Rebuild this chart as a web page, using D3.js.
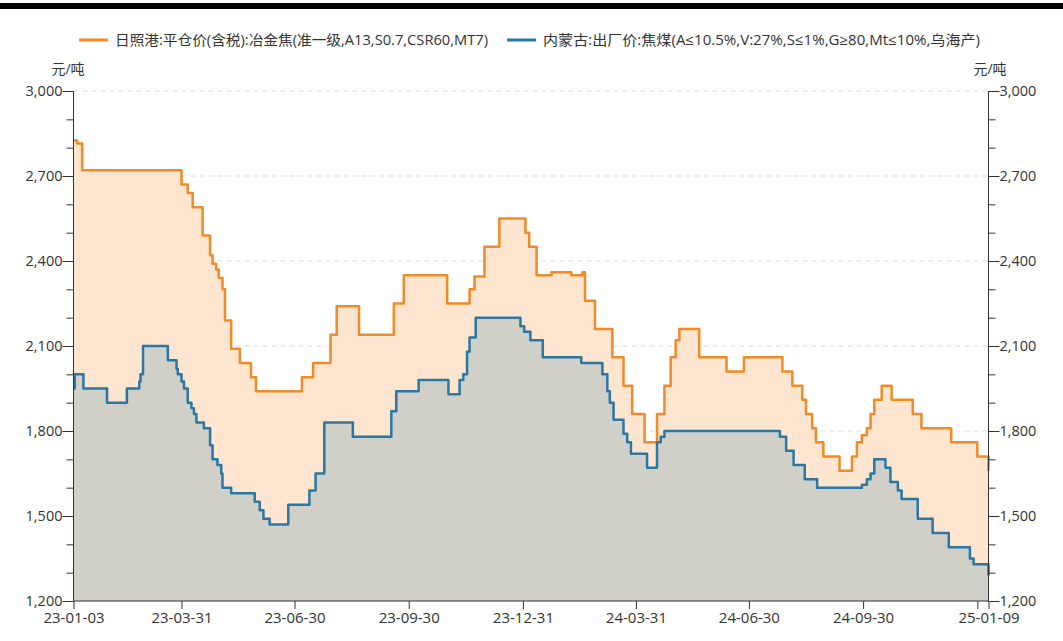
<!DOCTYPE html>
<html>
<head>
<meta charset="utf-8">
<script src="https://cdn.jsdelivr.net/npm/d3@7"></script>
<style>
  body { margin: 0; background: #fff; }
  svg text { font-family: "Open Sans", "Noto Sans CJK SC", sans-serif; fill: #333; }
</style>
</head>
<body>
<div id="chart"></div>
<script>
// 日照港 冶金焦 price, change points (value holds until next date)
const cokeDates = ["2023-01-03","2023-01-06","2023-01-10","2023-03-31","2023-04-05","2023-04-09","2023-04-17","2023-04-23","2023-04-25","2023-04-28","2023-04-30","2023-05-03","2023-05-05","2023-05-10","2023-05-17","2023-05-26","2023-05-30","2023-07-06","2023-07-15","2023-07-29","2023-08-03","2023-08-21","2023-09-18","2023-09-26","2023-10-31","2023-11-18","2023-11-22","2023-11-30","2023-12-12","2024-01-02","2024-01-05","2024-01-11","2024-01-23","2024-02-08","2024-02-17","2024-02-19","2024-02-27","2024-03-12","2024-03-21","2024-03-28","2024-04-07","2024-04-17","2024-04-23","2024-04-28","2024-05-02","2024-05-05","2024-05-21","2024-06-12","2024-06-26","2024-07-27","2024-08-04","2024-08-12","2024-08-15","2024-08-20","2024-08-23","2024-08-29","2024-09-11","2024-09-21","2024-09-25","2024-09-29","2024-10-03","2024-10-06","2024-10-09","2024-10-15","2024-10-23","2024-11-09","2024-11-16","2024-12-10","2024-12-31","2025-01-09"];
const cokeValues = [2825,2815,2720,2670,2640,2590,2490,2420,2390,2370,2340,2300,2190,2090,2040,1990,1940,1990,2040,2140,2240,2140,2250,2350,2250,2300,2345,2450,2550,2500,2450,2350,2360,2350,2360,2260,2160,2060,1960,1860,1760,1860,1960,2060,2120,2160,2060,2010,2060,2010,1960,1910,1860,1810,1760,1710,1660,1710,1760,1785,1810,1860,1910,1960,1910,1860,1810,1760,1710,1660];

// 内蒙古 焦煤 出厂价, change points
const coalDates = ["2023-01-03","2023-01-04","2023-01-11","2023-01-30","2023-02-15","2023-02-25","2023-02-26","2023-02-28","2023-03-20","2023-03-27","2023-03-28","2023-03-31","2023-04-02","2023-04-05","2023-04-08","2023-04-10","2023-04-12","2023-04-18","2023-04-23","2023-04-25","2023-04-29","2023-05-02","2023-05-03","2023-05-10","2023-05-29","2023-06-02","2023-06-05","2023-06-10","2023-06-25","2023-07-12","2023-07-17","2023-07-24","2023-08-16","2023-09-16","2023-09-20","2023-10-08","2023-11-01","2023-11-10","2023-11-13","2023-11-16","2023-11-18","2023-11-23","2023-12-29","2024-01-01","2024-01-06","2024-01-16","2024-02-16","2024-03-04","2024-03-08","2024-03-10","2024-03-13","2024-03-21","2024-03-24","2024-03-27","2024-04-09","2024-04-17","2024-04-20","2024-04-23","2024-07-25","2024-07-30","2024-08-05","2024-08-14","2024-08-24","2024-09-29","2024-10-03","2024-10-06","2024-10-09","2024-10-18","2024-10-22","2024-10-28","2024-10-31","2024-11-13","2024-11-25","2024-12-08","2024-12-25","2024-12-28","2025-01-09"];
const coalValues = [1950,2000,1950,1900,1950,1975,2000,2100,2050,2020,2000,1975,1950,1900,1880,1860,1830,1810,1750,1700,1680,1650,1600,1580,1550,1520,1490,1470,1540,1590,1650,1830,1780,1870,1940,1980,1930,1980,2000,2080,2130,2200,2170,2150,2120,2060,2040,2000,1940,1900,1840,1790,1760,1720,1670,1760,1780,1800,1780,1730,1680,1630,1600,1610,1630,1650,1700,1670,1620,1590,1560,1490,1440,1390,1350,1330,1290];

const tickDates = ["2023-01-03","2023-03-31","2023-06-30","2023-09-30","2023-12-31","2024-03-31","2024-06-30","2024-09-30","2024-12-31","2025-01-09"];
const tickLabels = ["23-01-03","23-03-31","23-06-30","23-09-30","23-12-31","24-03-31","24-06-30","24-09-30","","25-01-09"];

const yMajor = [1200,1500,1800,2100,2400,2700,3000];
const seriesNames = ["日照港:平仓价(含税):冶金焦(准一级,A13,S0.7,CSR60,MT7)", "内蒙古:出厂价:焦煤(A≤10.5%,V:27%,S≤1%,G≥80,Mt≤10%,乌海产)"];
const unitLabel = "元/吨";

const W = 1063, H = 641;
const plotL = 73.5, plotR = 988.5, plotT = 91, plotB = 601;
const orange = "#f28a25", blue = "#2a77a3";

const parse = d3.timeParse("%Y-%m-%d");
const coke = cokeDates.map((d, i) => ({date: parse(d), v: cokeValues[i]}));
const coal = coalDates.map((d, i) => ({date: parse(d), v: coalValues[i]}));

const x = d3.scaleTime()
  .domain([parse(tickDates[0]), parse(tickDates[tickDates.length - 1])])
  .range([plotL, plotR]);
const y = d3.scaleLinear().domain([1200, 3000]).range([plotB, plotT]);

const svg = d3.select("#chart").append("svg")
  .attr("width", W).attr("height", H)
  .style("display", "block");

// grid
svg.append("g").selectAll("line").data(yMajor.slice(1)).enter().append("line")
  .attr("x1", plotL).attr("x2", plotR)
  .attr("y1", d => y(d)).attr("y2", d => y(d))
  .attr("stroke", "#ddd").attr("stroke-dasharray", "5,4").attr("stroke-width", 1);

// areas
const areaGen = d3.area().curve(d3.curveStepAfter)
  .x(d => x(d.date)).y0(plotB).y1(d => y(d.v));
const lineGen = d3.line().curve(d3.curveStepAfter)
  .x(d => x(d.date)).y(d => y(d.v));

svg.append("path").datum(coke).attr("d", areaGen).attr("fill", "#fde5cf");
svg.append("path").datum(coal).attr("d", areaGen).attr("fill", "#d0d0c8");
svg.append("path").datum(coke).attr("d", lineGen)
  .attr("fill", "none").attr("stroke", orange).attr("stroke-width", 2.5).attr("stroke-linejoin", "round");
svg.append("path").datum(coal).attr("d", lineGen)
  .attr("fill", "none").attr("stroke", blue).attr("stroke-width", 2.5).attr("stroke-linejoin", "round");

// y axes: major ticks with labels, minor ticks every 100
const minorTicks = d3.range(1200, 3001, 100);
function yAxis(axisFn, xpos) {
  const g = svg.append("g").attr("transform", `translate(${xpos},0)`);
  g.append("g").call(axisFn(y).tickValues(minorTicks).tickSize(7).tickFormat(""));
  g.append("g").call(axisFn(y).tickValues(yMajor).tickSize(11).tickFormat(d3.format(",")));
  g.selectAll("path.domain").remove();
  g.append("line").attr("y1", plotT).attr("y2", plotB).attr("stroke", "#333");
  g.selectAll("line").attr("stroke", "#333");
  g.selectAll("text").attr("font-size", 14.5).attr("fill", "#333");
  return g;
}
const gl = yAxis(d3.axisLeft, plotL);
gl.selectAll("text").attr("x", -11);
const gr = yAxis(d3.axisRight, plotR);
gr.selectAll("text").attr("x", 11);

// x axis
const gx = svg.append("g").attr("transform", `translate(0,${plotB})`)
  .call(d3.axisBottom(x).tickValues(tickDates.map(parse)).tickSize(8)
    .tickFormat((d, i) => tickLabels[i]));
gx.select("path.domain").attr("stroke", "#333").attr("d", `M${plotL},0H${plotR}`);
gx.selectAll("line").attr("stroke", "#333");
gx.selectAll("text").attr("font-size", 15).attr("fill", "#333").attr("y", 11);

// unit labels
svg.append("text").attr("x", 68).attr("y", 74).attr("text-anchor", "middle")
  .attr("font-size", 14).text(unitLabel);
svg.append("text").attr("x", 990).attr("y", 74).attr("text-anchor", "middle")
  .attr("font-size", 14).text(unitLabel);

// legend
const legendX = [79, 507];
const legendLen = [373, 437];
const legendColors = [orange, blue];
const lg = svg.append("g").selectAll("g").data(seriesNames).enter().append("g")
  .attr("transform", (d, i) => `translate(${legendX[i]},40)`);
lg.append("line").attr("x1", 0).attr("x2", 29).attr("y1", 0).attr("y2", 0)
  .attr("stroke", (d, i) => legendColors[i]).attr("stroke-width", 3);
lg.append("text").attr("x", 36).attr("y", 5).attr("font-size", 14)
  .attr("textLength", (d, i) => legendLen[i]).attr("lengthAdjust", "spacingAndGlyphs")
  .text(d => d);

// black bar along the top edge
svg.append("rect").attr("x", 0).attr("y", 3).attr("width", W).attr("height", 6).attr("fill", "#000");
</script>
</body>
</html>
